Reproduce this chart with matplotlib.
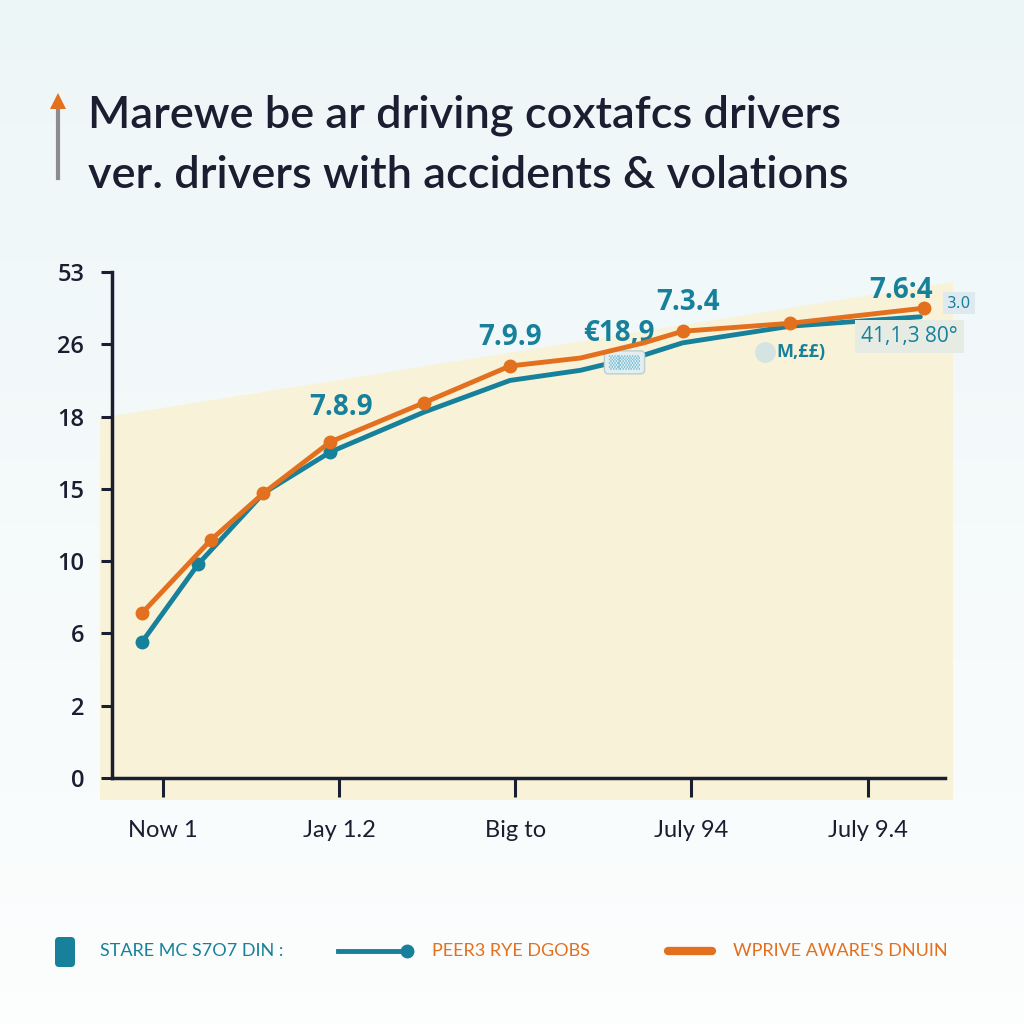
import numpy as np
import matplotlib.pyplot as plt
from matplotlib.patches import Polygon, FancyBboxPatch
from matplotlib.lines import Line2D

# texto
title_lines = ["Marewe be ar driving coxtafcs drivers",
               "ver. drivers with accidents & volations"]
x_labels = ["Now 1", "Jay 1.2", "Big to", "July 94", "July 9.4"]
y_labels = ["0", "2", "6", "10", "15", "18", "26", "53"]
legend_labels = ["STARE MC S7O7 DIN :", "PEER3 RYE DGOBS", "WPRIVE AWARE'S DNUIN"]

# series (posicion en el eje, valor en escala de ticks)
teal_x = [-0.12, 0.20, 0.57, 0.95, 1.48, 1.97, 2.37, 2.73, 2.95, 3.56, 4.30]
teal_y = [1.88, 2.96, 3.94, 4.51, 5.06, 5.50, 5.64, 5.85, 6.02, 6.25, 6.38]
orange_x = [-0.12, 0.27, 0.57, 0.95, 1.48, 1.97, 2.37, 2.73, 2.95, 3.56, 4.32]
orange_y = [2.28, 3.29, 3.94, 4.65, 5.19, 5.70, 5.81, 6.02, 6.18, 6.29, 6.50]

# etiquetas de valores
ann_text = ["7.8.9", "7.9.9", "€18,9", "7.3.4", "7.6:4"]
ann_x = [1.01, 1.97, 2.59, 2.98, 4.19]
ann_y = [5.12, 6.09, 6.15, 6.58, 6.75]

TEAL = "#17809a"
ORANGE = "#e2701f"
NAVY = "#1b1d30"

fig = plt.figure(figsize=(10.24, 10.24), dpi=100)

# fondo degradado
bg = fig.add_axes([0, 0, 1, 1], zorder=-2)
grad = np.linspace(0, 1, 256).reshape(-1, 1)
top = np.array([0.93, 0.965, 0.97])
bot = np.array([0.99, 0.995, 0.995])
img = top + (bot - top) * grad[:, :, None]
bg.imshow(img, extent=[0, 1, 0, 1], aspect="auto", origin="upper")
bg.set_xlim(0, 1)
bg.set_ylim(0, 1)
bg.axis("off")

# zona amarilla
px = lambda x, y: (x / 1024, 1 - y / 1024)
bg.add_patch(Polygon([px(100, 418), px(953, 282), px(953, 800), px(100, 800)],
                     closed=True, facecolor="#f8f3d8", edgecolor="none"))

# titulo
for i, t in enumerate(title_lines):
    fig.text(88 / 1024, 1 - (128 + 60 * i) / 1024, t, fontsize=32.5, family="Lato",
             fontweight="semibold", color=NAVY, ha="left", va="baseline")
bg.add_line(Line2D([58 / 1024, 58 / 1024], [1 - 108 / 1024, 1 - 178 / 1024],
                   color="#8c8c8c", lw=3))
bg.plot([58 / 1024], [1 - 101 / 1024], marker="^", color=ORANGE, markersize=12,
        markeredgewidth=0)

ax = fig.add_axes([112 / 1024, 1 - 778 / 1024, 833 / 1024, 506 / 1024])
ax.patch.set_alpha(0)
ax.set_xlim(-0.29, 4.44)
ax.set_ylim(0, 7)

ax.plot(teal_x, teal_y, color=TEAL, lw=3.5, marker="o", markersize=9,
        markevery=[0, 1, 3], solid_capstyle="round", zorder=3)
ax.plot(orange_x, orange_y, color=ORANGE, lw=3.5, marker="o", markersize=9,
        markevery=[0, 1, 2, 3, 4, 5, 8, 9, 10], solid_capstyle="round", zorder=4)

for t, x, y in zip(ann_text, ann_x, ann_y):
    ax.text(x, y, t, fontsize=20, family="Open Sans", fontweight="bold",
            color=TEAL, ha="center", va="center")

ax.text(4.24, 6.11, "41,1,3 80°", fontsize=15, family="Open Sans", color=TEAL,
        ha="center", va="center",
        bbox=dict(boxstyle="square,pad=0.3", facecolor="#e6ece3", edgecolor="none"))
ax.text(3.62, 5.89, "M,££)", fontsize=13, family="Open Sans", fontweight="bold",
        color=TEAL, ha="center", va="center")
ax.plot([3.42], [5.89], marker="o", markersize=14, color="#d5e3e2", zorder=2)
ax.text(2.62, 5.75, "▒▒▒", fontsize=10, color="#7fc3da", ha="center", va="center",
        bbox=dict(boxstyle="round,pad=0.3", facecolor="#e3eef0", edgecolor="#b9cfd4"))
ax.text(4.52, 6.57, "3.0", fontsize=11, color=TEAL, ha="center", va="center",
        clip_on=False,
        bbox=dict(boxstyle="square,pad=0.25", facecolor="#dfeaf0", edgecolor="none"))

ax.set_xticks(range(len(x_labels)))
ax.set_xticklabels(x_labels, family="Lato", fontsize=17, color=NAVY)
ax.set_yticks(range(len(y_labels)))
ax.set_yticklabels(y_labels, family="Open Sans", fontweight="semibold",
                   fontsize=17, color=NAVY)
ax.tick_params(axis="x", length=14, width=2.2, color=NAVY, pad=16)
ax.tick_params(axis="y", length=8, width=2.2, color=NAVY, pad=12)
for s in ["top", "right"]:
    ax.spines[s].set_visible(False)
for s in ["left", "bottom"]:
    ax.spines[s].set_linewidth(2.5)
    ax.spines[s].set_color(NAVY)

# leyenda
ly = 1 - 951 / 1024
bg.add_patch(FancyBboxPatch((55 / 1024, 1 - 967 / 1024), 20 / 1024, 30 / 1024,
                            boxstyle="round,pad=0,rounding_size=0.004",
                            facecolor=TEAL, edgecolor="none"))
fig.text(100 / 1024, ly, legend_labels[0], fontsize=13, family="Lato",
         color=TEAL, va="center")
bg.add_line(Line2D([338 / 1024, 405 / 1024], [ly, ly], color=TEAL, lw=3.5))
bg.plot([407 / 1024], [ly], marker="o", color=TEAL, markersize=9)
fig.text(432 / 1024, ly, legend_labels[1], fontsize=13, family="Lato",
         color=ORANGE, va="center")
bg.add_line(Line2D([668 / 1024, 712 / 1024], [ly, ly], color=ORANGE, lw=6,
                   solid_capstyle="round"))
fig.text(733 / 1024, ly, legend_labels[2], fontsize=13, family="Lato",
         color=ORANGE, va="center")

fig.savefig("out.png", dpi=100)
